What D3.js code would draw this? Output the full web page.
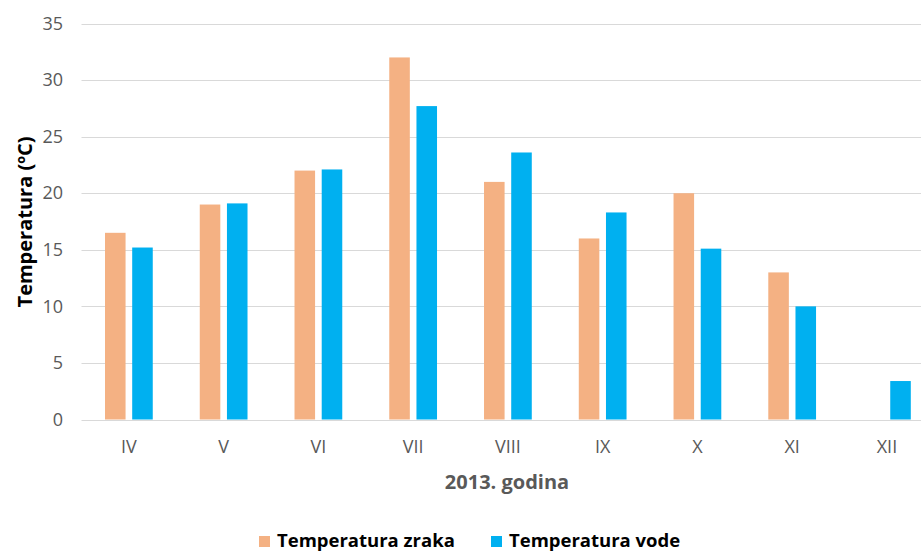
<!DOCTYPE html>
<html>
<head>
<meta charset="utf-8">
<script src="https://cdn.jsdelivr.net/npm/d3@7"></script>
<style>
  body { margin: 0; background: #fff; }
  svg { display: block; font-family: "Open Sans", "Noto Sans", sans-serif; }
</style>
</head>
<body>
<div class="chart"></div>
<script>
const months = ['IV', 'V', 'VI', 'VII', 'VIII', 'IX', 'X', 'XI', 'XII'];
const airTemp = [16.5, 19, 22, 32, 21, 16, 20, 13, null];
const waterTemp = [15.2, 19.1, 22.1, 27.7, 23.6, 18.3, 15.1, 10, 3.4];
const yTicks = [0, 5, 10, 15, 20, 25, 30, 35];
const seriesNames = ['Temperatura zraka', 'Temperatura vode'];
const seriesColors = ['#F4B183', '#00B0F0'];

const outerWidth = 921;
const outerHeight = 553;
const plot = { left: 81.5, right: 934.3, top: 23.5, bottom: 419.5 };
const fontFamily = '"Open Sans", "Noto Sans", sans-serif';

const svg = d3.select('.chart').append('svg')
    .attr('width', outerWidth)
    .attr('height', outerHeight);

// Scales
const x = d3.scaleBand().domain(months).range([plot.left, plot.right]);
const y = d3.scaleLinear().domain([0, 35]).range([plot.bottom, plot.top]);
const step = x.step();
const barW = step * 0.217;
const barGap = step * 0.07;

// Grid lines
svg.append('g')
    .selectAll('line')
    .data(yTicks)
    .join('line')
    .attr('x1', plot.left)
    .attr('x2', outerWidth)
    .attr('y1', d => Math.round(y(d)) + 0.5)
    .attr('y2', d => Math.round(y(d)) + 0.5)
    .attr('stroke', '#d9d9d9')
    .attr('stroke-width', 1);

// Y axis labels
const yAxis = d3.axisLeft(y).tickValues(yTicks).tickSize(0).tickPadding(0);
const gy = svg.append('g')
    .attr('transform', 'translate(63,0)')
    .call(yAxis);
gy.select('.domain').remove();
gy.selectAll('text')
    .attr('fill', '#595959')
    .style('font-size', '18px')
    .style('font-family', fontFamily);

// X axis labels
const xAxis = d3.axisBottom(x).tickSize(0).tickPadding(0);
const gx = svg.append('g')
    .attr('transform', `translate(0, 440)`)
    .call(xAxis);
gx.select('.domain').remove();
gx.selectAll('text')
    .attr('fill', '#595959')
    .style('font-size', '18px')
    .style('font-family', fontFamily);

// Bars
const series = [airTemp, waterTemp];
series.forEach((vals, si) => {
    svg.append('g')
        .selectAll('rect')
        .data(months.map((m, i) => ({ m, v: vals[i] })).filter(d => d.v !== null))
        .join('rect')
        .attr('x', d => x(d.m) + step / 2 - barW - barGap / 2 + si * (barW + barGap))
        .attr('y', d => y(d.v))
        .attr('width', barW)
        .attr('height', d => y(0) - y(d.v))
        .attr('fill', seriesColors[si]);
});

// Axis titles
svg.append('text')
    .attr('x', 507)
    .attr('y', 489)
    .attr('text-anchor', 'middle')
    .attr('fill', '#595959')
    .style('font-size', '20px')
    .style('font-weight', 'bold')
    .text('2013. godina');

svg.append('text')
    .attr('transform', 'translate(32, 222) rotate(-90)')
    .attr('text-anchor', 'middle')
    .attr('fill', '#000')
    .style('font-size', '20px')
    .style('font-weight', 'bold')
    .text('Temperatura (ºC)');

// Legend
const legendX = [259, 491];
const legend = svg.append('g');
seriesNames.forEach((name, i) => {
    legend.append('rect')
        .attr('x', legendX[i])
        .attr('y', 536)
        .attr('width', 11)
        .attr('height', 11)
        .attr('fill', seriesColors[i]);
    legend.append('text')
        .attr('x', legendX[i] + 18)
        .attr('y', 547)
        .attr('fill', '#000')
        .style('font-size', '18.5px')
        .style('font-weight', 'bold')
        .text(name);
});
</script>
</body>
</html>
